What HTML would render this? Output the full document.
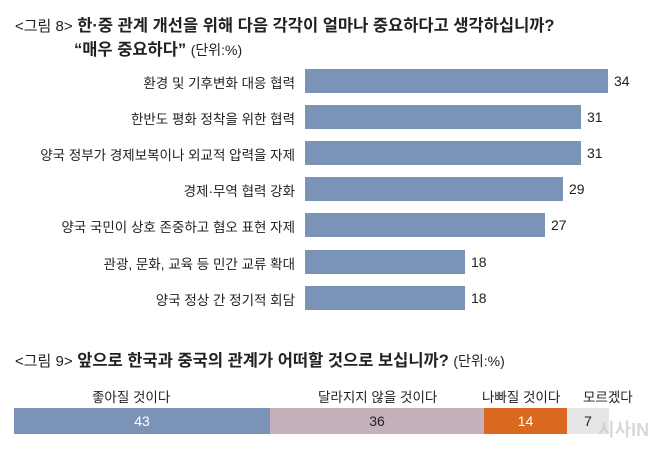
<!DOCTYPE html><html><head><meta charset="utf-8"><style>
body{margin:0;width:658px;height:452px;background:#fff;font-family:"Liberation Sans","Noto Sans CJK KR",sans-serif;color:#222;position:relative;overflow:hidden}
.a{position:absolute;white-space:nowrap}
.t{font-size:16.5px;font-weight:bold}
.t span{font-weight:normal;font-size:14px}
.lab{font-size:13.5px;right:363px}
.bar{position:absolute;left:305px;height:24px;background:#7a93b6}
.v{font-size:14px}
.s{position:absolute;top:408px;height:26px;font-size:14px;text-align:center;line-height:26px}
.sl{font-size:13.5px;top:386px}
</style></head><body>
<div class="a t" style="left:15px;top:12px"><span style="font-size:15px">&lt;그림 8&gt;</span> 한·중 관계 개선을 위해 다음 각각이 얼마나 중요하다고 생각하십니까?</div>
<div class="a t" style="left:74px;top:36px">“매우 중요하다” <span>(단위:%)</span></div>

<div class="a lab" style="top:72px">환경 및 기후변화 대응 협력</div><div class="bar" style="top:69px;width:303px"></div><div class="a v" style="left:614px;top:73px">34</div>
<div class="a lab" style="top:108px">한반도 평화 정착을 위한 협력</div><div class="bar" style="top:105px;width:276px"></div><div class="a v" style="left:587px;top:109px">31</div>
<div class="a lab" style="top:144px">양국 정부가 경제보복이나 외교적 압력을 자제</div><div class="bar" style="top:141px;width:276px"></div><div class="a v" style="left:587px;top:145px">31</div>
<div class="a lab" style="top:180px">경제·무역 협력 강화</div><div class="bar" style="top:177px;width:258px"></div><div class="a v" style="left:569px;top:181px">29</div>
<div class="a lab" style="top:216px">양국 국민이 상호 존중하고 혐오 표현 자제</div><div class="bar" style="top:213px;width:240px"></div><div class="a v" style="left:551px;top:217px">27</div>
<div class="a lab" style="top:253px">관광, 문화, 교육 등 민간 교류 확대</div><div class="bar" style="top:250px;width:160px"></div><div class="a v" style="left:471px;top:254px">18</div>
<div class="a lab" style="top:289px">양국 정상 간 정기적 회담</div><div class="bar" style="top:286px;width:160px"></div><div class="a v" style="left:471px;top:290px">18</div>

<div class="a t" style="left:15px;top:347px"><span style="font-size:15px">&lt;그림 9&gt;</span> 앞으로 한국과 중국의 관계가 어떠할 것으로 보십니까? <span>(단위:%)</span></div>
<div class="a sl" style="left:92px">좋아질 것이다</div>
<div class="a sl" style="left:318px">달라지지 않을 것이다</div>
<div class="a sl" style="left:482px">나빠질 것이다</div>
<div class="a sl" style="left:583px">모르겠다</div>
<div class="s" style="left:14px;width:256px;background:#7a93b6;color:#fff">43</div>
<div class="s" style="left:270px;width:214px;background:#c5b1bb">36</div>
<div class="s" style="left:484px;width:83px;background:#d8691f;color:#fff">14</div>
<div class="s" style="left:567px;width:42px;background:#e6e6e6">7</div>
<div class="a" style="left:598px;top:416px;font-size:18px;font-weight:bold;color:rgba(200,200,200,0.7)">시사IN</div>
</body></html>
